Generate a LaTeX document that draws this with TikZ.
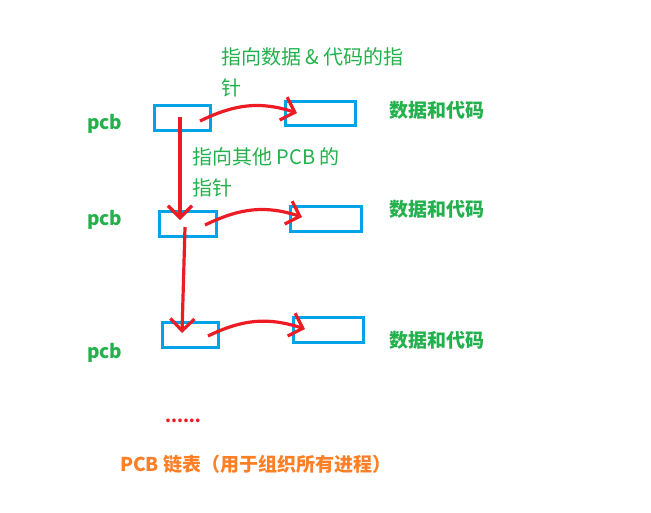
\documentclass[tikz,border=0pt]{standalone}
\usepackage{fontspec}
\setmainfont{Noto Sans CJK SC}
\usetikzlibrary{arrows.meta}
\definecolor{pgreen}{RGB}{34,177,76}
\definecolor{pred}{RGB}{237,28,36}
\definecolor{pblue}{RGB}{0,162,232}
\definecolor{porange}{RGB}{255,127,39}
\tikzset{
  pbox/.style={draw=pblue,line width=3pt,minimum width=#1,inner sep=0pt},
  link/.style={draw=pred,line width=3.2pt,-{Straight Barb[length=12pt,width=24pt,line width=3.2pt]}},
  lbl/.style={text=pgreen,font=\fontsize{20}{31}\selectfont,anchor=west,inner sep=0pt,align=left},
  blbl/.style={text=pgreen,font=\fontsize{19}{20}\selectfont\bfseries,anchor=west,inner sep=0pt},
}
\begin{document}
\begin{tikzpicture}[x=1pt,y=-1pt]
\useasboundingbox (0,0) rectangle (651,512);
% left boxes
\node[pbox=56pt,minimum height=25pt] (p1) at (182,117.5) {};
\node[pbox=57pt,minimum height=25pt] (p2) at (187.5,223.5) {};
\node[pbox=56pt,minimum height=25pt] (p3) at (190,334.5) {};
% right boxes
\node[pbox=70pt,minimum height=24pt] (d1) at (320,113) {};
\node[pbox=71pt,minimum height=25pt] (d2) at (325.5,218.5) {};
\node[pbox=70pt,minimum height=25pt] (d3) at (328,329.5) {};
% labels
\node[blbl] (l1) at (87,124) {pcb};
\node[blbl] (l2) at (87,220) {pcb};
\node[blbl] (l3) at (87,353) {pcb};
\node[blbl] (t1) at (389,110) {数据和代码};
\node[blbl] (t2) at (389,209) {数据和代码};
\node[blbl] (t3) at (389,340) {数据和代码};
\node[lbl] (c1) at (221,72) {指向数据 \& 代码的指\\针};
\node[lbl] (c2) at (192,172) {指向其他 PCB 的\\指针};
\node[text=pred,font=\fontsize{17}{17}\selectfont\bfseries,inner sep=0pt] (dots) at (183,421) {......};
\node[text=porange,font=\fontsize{19}{20}\selectfont\bfseries,anchor=west,inner sep=0pt] (title) at (120,464) {PCB 链表（用于组织所有进程）};
% connector end points
\coordinate (v1s) at (180,117);
\coordinate (v1e) at (180,220);
\coordinate (v2s) at (185,227);
\coordinate (v2e) at (182,333);
\coordinate (h1s) at (200,121);
\coordinate (h1e) at (297,113);
\coordinate (h2s) at (205,225);
\coordinate (h2e) at (302,217);
\coordinate (h3s) at (208,336);
\coordinate (h3e) at (305,329);
\draw[link] (v1s) -- (v1e);
\draw[link] (v2s) -- (v2e);
\draw[link] (h1s) .. controls (235,104) and (260,101) .. (h1e);
\draw[link] (h2s) .. controls (240,208) and (265,205) .. (h2e);
\draw[link] (h3s) .. controls (243,319) and (268,317) .. (h3e);
\end{tikzpicture}
\end{document}
